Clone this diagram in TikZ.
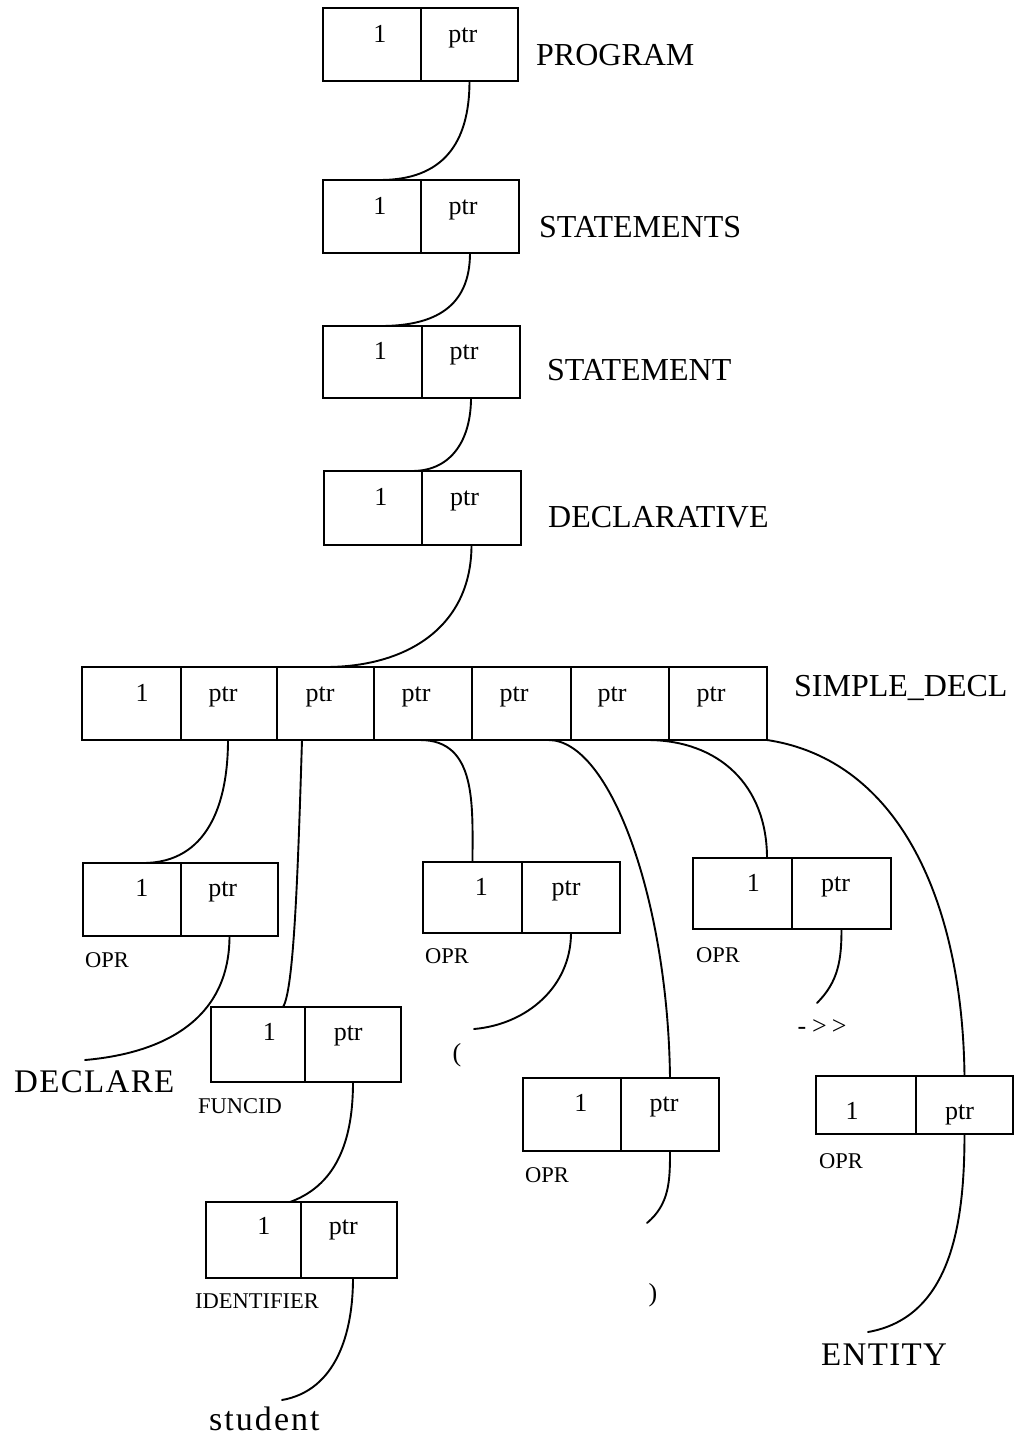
\documentclass[tikz,border=0pt]{standalone}
\usepackage{fontspec}
\setmainfont{Liberation Serif}
% two-cell record: #1 name, #2 left, #3 top, #4 divider, #5 right, #6 bottom,
% #7 baseline offset of the cell texts, #8/#9 text position inside each cell
\newcommand\twobox[9]{%
  \pgfmathsetmacro\tbwa{#4-#2}%
  \pgfmathsetmacro\tbwb{#5-#4}%
  \pgfmathsetmacro\tbh{#6-#3}%
  \pgfmathsetmacro\tbone{#2+#8*(#4-#2)}%
  \pgfmathsetmacro\tbptr{#4+#9*(#5-#4)}%
  \pgfmathsetmacro\tbbase{#3+#7}%
  \node[cell, anchor=north west, minimum width=\tbwa pt, minimum height=\tbh pt] (#1l) at (#2,#3) {};
  \node[cell, anchor=north west, minimum width=\tbwb pt, minimum height=\tbh pt] (#1r) at (#4,#3) {};
  \node[celltxt, anchor=base] (#1one) at (\tbone,\tbbase) {1};
  \node[celltxt, anchor=base] (#1ptr) at (\tbptr,\tbbase) {ptr};
}
\begin{document}
\begin{tikzpicture}[x=1pt,y=-1pt,
  cell/.style={draw, rectangle, line width=1.9pt, inner sep=0pt, outer sep=0pt},
  celltxt/.style={inner sep=0pt, font=\fontsize{26}{26}\selectfont},
  bigtxt/.style={inner sep=0pt, anchor=base west, font=\fontsize{32}{32}\selectfont},
  smalltxt/.style={inner sep=0pt, anchor=base west, font=\fontsize{22.5}{22.5}\selectfont},
  leaftxt/.style={inner sep=0pt, anchor=base west, font=\fontsize{33}{33}\selectfont\addfontfeatures{LetterSpace=4}},
  link/.style={line width=1.9pt, line cap=round}]
\fill[white] (0,0) rectangle (1014,1436);
\useasboundingbox (0,0) rectangle (1014,1436);

% chain of single-pointer records
\twobox{pg}{323}{8}{421}{518}{81}{34}{0.58}{0.43}
\twobox{sts}{323}{180}{421}{519}{253}{34}{0.58}{0.43}
\twobox{st}{323}{326}{422}{520}{398}{33}{0.58}{0.43}
\twobox{dc}{324}{471}{422}{521}{545}{34}{0.58}{0.43}

\node[bigtxt] (lpg) at (536,65) {PROGRAM};
\node[bigtxt] (lsts) at (539,237) {STATEMENTS};
\node[bigtxt] (lst) at (547,380) {STATEMENT};
\node[bigtxt] (ldc) at (548,527) {DECLARATIVE};

% seven-cell record
\foreach \i/\a/\b in {1/82/181, 2/181/277, 3/277/374, 4/374/472, 5/472/571, 6/571/669, 7/669/767} {
  \pgfmathsetmacro\cw{\b-\a}
  \node[cell, anchor=north west, minimum width=\cw pt, minimum height=73pt] (sd\i) at (\a,667) {};
}
\node[celltxt, anchor=base] (sdt1) at (142,701) {1};
\foreach \i/\x in {2/223, 3/320, 4/416, 5/514, 6/612, 7/711} {
  \node[celltxt, anchor=base] (sdt\i) at (\x,701) {ptr};
}
\node[bigtxt] (lsd) at (794,696) {SIMPLE\_DECL};

% second level records
\twobox{oa}{83}{863}{181}{278}{936}{33}{0.6}{0.43}
\twobox{fn}{211}{1007}{305}{401}{1082}{33}{0.62}{0.45}
\twobox{id}{206}{1202}{301}{397}{1278}{32}{0.61}{0.44}
\twobox{ob}{423}{862}{522}{620}{933}{33}{0.59}{0.45}
\twobox{oc}{523}{1078}{621}{719}{1151}{33}{0.59}{0.44}
\twobox{od}{693}{858}{792}{891}{929}{33}{0.61}{0.44}
\twobox{oe}{816}{1076}{916}{1013}{1134}{43}{0.36}{0.45}

\node[smalltxt] (loa) at (85,967) {OPR};
\node[smalltxt] (lfn) at (198,1113) {FUNCID};
\node[smalltxt] (lid) at (195,1308) {IDENTIFIER};
\node[smalltxt] (lob) at (425,963) {OPR};
\node[smalltxt] (loc) at (525,1182) {OPR};
\node[smalltxt] (lod) at (696,962) {OPR};
\node[smalltxt] (loe) at (819,1168) {OPR};

% leaf values
\node[leaftxt] (vdeclare) at (14,1092) {DECLARE};
\node[leaftxt, font=\fontsize{34}{34}\selectfont\addfontfeatures{LetterSpace=6}] (vstudent) at (209,1430) {student};
\node[leaftxt] (ventity) at (821,1365) {ENTITY};
\node[inner sep=0pt, font=\fontsize{26}{26}\selectfont] (vopen) at (457,1055) {(};
\node[inner sep=0pt, font=\fontsize{26}{26}\selectfont] (vclose) at (653,1295) {)};
\node[inner sep=0pt, font=\fontsize{26}{26}\selectfont] (varrow) at (822,1027) {-\kern6pt>\kern5pt>};

% free ends of the leaf pointers
\coordinate (edeclare) at (85,1060);
\coordinate (eopen) at (474,1029);
\coordinate (eclose) at (647,1223);
\coordinate (earrow) at (817,1003);
\coordinate (eentity) at (868,1332);
\coordinate (estudent) at (282,1400);

% pointers down the chain
\draw[link] (pgr.south) to[out=-90,in=0,looseness=1.2] ([xshift=8pt]stsl.north);
\draw[link] (stsr.south) to[out=-90,in=0,looseness=1.2] ([xshift=8pt]stl.north);
\draw[link] (str.south) to[out=-90,in=0,looseness=1.1] ([xshift=39pt]dcl.north);
\draw[link] (dcr.south) to[out=-90,in=0,looseness=1.1] (sd3.north);

% pointers out of the seven-cell record
\draw[link] ([xshift=-1pt]sd2.south) to[out=-90,in=0,looseness=1.1] ([xshift=11pt]oal.north);
\draw[link] ([xshift=-23.5pt]sd3.south) .. controls +(-4,130) and +(11,-17) .. ([xshift=25pt]fnl.north);
\draw[link] ([xshift=-3pt]sd4.south) to[out=0,in=90,looseness=1.1] (obl.north);
\draw[link] ([xshift=27pt]sd5.south) .. controls +(62,0) and +(-2,-177) .. (ocr.north);
\draw[link] ([xshift=27pt]sd6.south) to[out=0,in=90,looseness=1.1] ([xshift=24.5pt]odl.north);
\draw[link] (sd7.south east) .. controls +(133,20) and +(-2,-173) .. (oer.north);

% leaf pointers
\draw[link] (oar.south) to[out=-90,in=5,looseness=1.1] (edeclare);
\draw[link] (fnr.south) to[out=-90,in=20] ([xshift=36.5pt]idl.north);
\draw[link] ([xshift=4pt]idr.south) to[out=-90,in=10] (estudent);
\draw[link] (obr.south) to[out=-90,in=5] (eopen);
\draw[link] (ocr.south) to[out=-90,in=40] (eclose);
\draw[link] (odr.south) to[out=-90,in=45] (earrow);
\draw[link] (oer.south) to[out=-90,in=10] (eentity);
\end{tikzpicture}
\end{document}
